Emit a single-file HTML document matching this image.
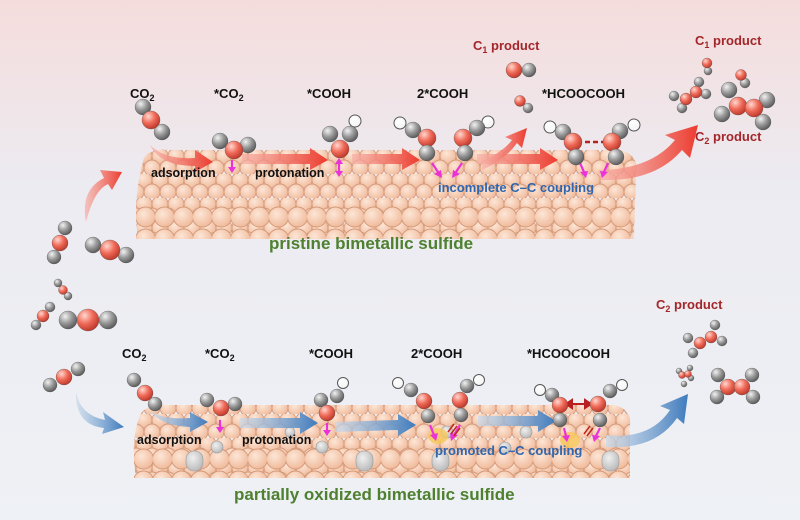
<!DOCTYPE html>
<html><head><meta charset="utf-8"><style>
html,body{margin:0;padding:0;width:800px;height:520px;overflow:hidden;}
svg{display:block}
text{font-family:"Liberation Sans",Arial,sans-serif;font-weight:bold}
</style></head><body>
<svg width="800" height="520" viewBox="0 0 800 520" xmlns="http://www.w3.org/2000/svg">
<defs>
<linearGradient id="bg" x1="0" y1="0" x2="0" y2="1">
<stop offset="0" stop-color="#f5dcdc"/><stop offset="0.35" stop-color="#ecebf1"/><stop offset="1" stop-color="#eef1f5"/>
</linearGradient>
<radialGradient id="g" cx="0.35" cy="0.3" r="0.75"><stop offset="0" stop-color="#f2f2f2"/><stop offset="0.5" stop-color="#9a9a9a"/><stop offset="1" stop-color="#555"/></radialGradient>
<radialGradient id="r" cx="0.35" cy="0.3" r="0.75"><stop offset="0" stop-color="#ffd8d0"/><stop offset="0.5" stop-color="#f06a58"/><stop offset="1" stop-color="#b83528"/></radialGradient>
<radialGradient id="h" cx="0.35" cy="0.3" r="0.75"><stop offset="0" stop-color="#fff"/><stop offset="1" stop-color="#f4f4f4"/></radialGradient>
<radialGradient id="p" cx="0.4" cy="0.35" r="0.7"><stop offset="0" stop-color="#fde6d6"/><stop offset="1" stop-color="#efb898"/></radialGradient>
<radialGradient id="pg" cx="0.4" cy="0.35" r="0.7"><stop offset="0" stop-color="#f0f0f0"/><stop offset="1" stop-color="#b8b8b8"/></radialGradient>
<pattern id="top" width="16" height="24" patternUnits="userSpaceOnUse" x="136" y="150">
<circle cx="8" cy="6" r="8" fill="url(#p)" stroke="#d49878" stroke-width="0.9"/>
<circle cx="0" cy="18" r="8" fill="url(#p)" stroke="#d49878" stroke-width="0.9"/>
<circle cx="16" cy="18" r="8" fill="url(#p)" stroke="#d49878" stroke-width="0.9"/>
</pattern>
<pattern id="front" width="19" height="22" patternUnits="userSpaceOnUse" x="136" y="206">
<circle cx="9.5" cy="11" r="10" fill="url(#p)" stroke="#d49878" stroke-width="0.9"/>
</pattern>
<pattern id="front2" width="19" height="22" patternUnits="userSpaceOnUse" x="134" y="448">
<circle cx="9.5" cy="11" r="10" fill="url(#p)" stroke="#d49878" stroke-width="0.9"/>
</pattern>
<linearGradient id="ra" x1="0" y1="0" x2="1" y2="0"><stop offset="0" stop-color="#f7b0a8" stop-opacity="0.7"/><stop offset="1" stop-color="#ec3b2e"/></linearGradient>
<linearGradient id="ba" x1="0" y1="0" x2="1" y2="0"><stop offset="0" stop-color="#c9d9ea" stop-opacity="0.7"/><stop offset="1" stop-color="#3f7bbd"/></linearGradient>
</defs>
<rect width="800" height="520" fill="url(#bg)"/>

<!-- TOP SLAB -->
<path d="M144,158 Q150,148 170,150 L620,150 Q640,155 636,175 L634,236 L138,238 Q132,200 144,158Z" fill="url(#top)"/>
<rect x="136" y="206" width="498" height="33" fill="url(#front)"/>

<!-- BOTTOM SLAB -->
<path d="M140,415 Q145,405 165,405 L615,405 Q632,410 630,425 L630,478 L136,478 Q130,440 140,415Z" fill="url(#top)"/>
<rect x="134" y="448" width="496" height="30" fill="url(#front2)"/>
<g fill="url(#pg)" stroke="#999" stroke-width="0.6">
<rect x="186" y="451" width="17" height="20" rx="8"/><rect x="356" y="451" width="17" height="20" rx="8"/>
<rect x="432" y="451" width="17" height="20" rx="8"/><rect x="602" y="451" width="17" height="20" rx="8"/>
<circle cx="217" cy="447" r="6"/><circle cx="322" cy="447" r="6"/><circle cx="447" cy="432" r="6"/>
<circle cx="526" cy="432" r="6"/><circle cx="290" cy="432" r="5"/><circle cx="505" cy="448" r="6"/>
</g>
<g fill="#f7c85a" opacity="0.8"><ellipse cx="438" cy="436" rx="10" ry="8"/><ellipse cx="570" cy="440" rx="10" ry="8"/></g>

<!-- top arrows -->
<g fill="url(#ra)">
<path d="M150,145 Q165,160 195,158 L195,150 L213,162 L195,172 L195,166 Q160,166 150,145Z"/>
<path d="M242,154 L310,154 L310,148 L328,160 L310,170 L310,164 L242,164Z"/>
<path d="M352,154 L402,154 L402,148 L420,160 L402,170 L402,164 L352,164Z"/>
<path d="M477,154 L540,154 L540,148 L558,160 L540,170 L540,164 L477,164Z"/>
<path d="M482,162 Q505,150 512,140 L505,137 L527,128 L522,148 L517,143 Q505,160 482,170Z"/>
<path d="M598,170 Q650,170 675,140 L665,135 L698,125 L690,158 L682,150 Q655,182 600,180Z"/>
<path d="M86,222 Q80,190 104,178 L100,170 L122,172 L112,190 L108,184 Q94,190 86,222Z"/>
</g>
<!-- bottom arrows -->
<g fill="url(#ba)">
<path d="M150,410 Q160,420 190,418 L190,412 L208,422 L190,432 L190,427 Q160,426 150,410Z"/>
<path d="M240,418 L300,418 L300,412 L318,423 L300,434 L300,428 L240,428Z"/>
<path d="M335,422 L398,420 L398,414 L416,425 L398,436 L398,430 L335,432Z"/>
<path d="M478,416 L538,416 L538,410 L556,421 L538,432 L538,426 L478,426Z"/>
<path d="M606,435 Q650,440 670,410 L660,406 L688,394 L684,424 L677,418 Q655,450 606,447Z"/>
<path d="M76,392 Q80,415 105,420 L103,412 L124,427 L102,434 L104,428 Q75,425 76,392Z"/>
</g>

<!-- magenta arrows -->
<g stroke="#ea32d8" stroke-width="2.2" fill="#ea32d8">
<line x1="232" y1="160" x2="232" y2="168"/><path d="M228,167 L236,167 L232,173Z" stroke="none"/>
<line x1="339" y1="163" x2="339" y2="172"/><path d="M335,164 L343,164 L339,158Z" stroke="none"/><path d="M335,171 L343,171 L339,177Z" stroke="none"/>
<line x1="432" y1="163" x2="438" y2="172"/><path d="M434,174 L441,170 L442,178Z" stroke="none"/>
<line x1="462" y1="163" x2="456" y2="172"/><path d="M453,170 L460,174 L452,178Z" stroke="none"/>
<line x1="580" y1="163" x2="584" y2="172"/><path d="M580,172 L588,171 L586,178Z" stroke="none"/>
<line x1="608" y1="163" x2="604" y2="172"/><path d="M600,171 L608,172 L602,178Z" stroke="none"/>
<line x1="220" y1="420" x2="220" y2="428"/><path d="M216,427 L224,427 L220,433Z" stroke="none"/>
<line x1="327" y1="423" x2="327" y2="431"/><path d="M323,430 L331,430 L327,436Z" stroke="none"/>
<line x1="430" y1="425" x2="434" y2="435"/><path d="M430,435 L438,433 L436,441Z" stroke="none"/>
<line x1="460" y1="425" x2="454" y2="435"/><path d="M450,433 L458,435 L451,441Z" stroke="none"/>
<line x1="564" y1="428" x2="566" y2="436"/><path d="M562,436 L570,435 L567,442Z" stroke="none"/>
<line x1="600" y1="428" x2="596" y2="436"/><path d="M592,435 L600,436 L594,442Z" stroke="none"/>
</g>
<g stroke="#c0281e" stroke-width="1.5" fill="none">
<path d="M448,432 q3,-4 6,-8 M451,434 q3,-4 6,-8 M454,436 q3,-4 6,-8"/>
<path d="M584,434 q3,-4 6,-8 M587,436 q3,-4 6,-8"/>
</g>
<line x1="585" y1="142" x2="608" y2="142" stroke="#b82020" stroke-width="2.5" stroke-dasharray="5,3"/>
<g stroke="#b82020" stroke-width="2" fill="#b82020"><line x1="568" y1="404" x2="589" y2="404"/><path d="M572,400 L566,404 L572,408Z M585,400 L591,404 L585,408Z"/></g>

<!-- molecules -->
<g stroke="#444" stroke-width="0.3">
<circle cx="143" cy="107" r="8" fill="url(#g)"/><circle cx="162" cy="132" r="8" fill="url(#g)"/><circle cx="151" cy="120" r="9" fill="url(#r)"/>
<circle cx="220" cy="141" r="8" fill="url(#g)"/><circle cx="248" cy="145" r="8" fill="url(#g)"/><circle cx="234" cy="150" r="9" fill="url(#r)"/>
<circle cx="355" cy="121" r="6" fill="url(#h)" stroke="#555" stroke-width="1"/><circle cx="350" cy="134" r="8" fill="url(#g)"/><circle cx="330" cy="134" r="8" fill="url(#g)"/><circle cx="340" cy="149" r="9" fill="url(#r)"/>
<circle cx="400" cy="123" r="6" fill="url(#h)" stroke="#555" stroke-width="1"/><circle cx="413" cy="130" r="8" fill="url(#g)"/><circle cx="427" cy="138" r="9" fill="url(#r)"/><circle cx="427" cy="153" r="8" fill="url(#g)"/>
<circle cx="488" cy="122" r="6" fill="url(#h)" stroke="#555" stroke-width="1"/><circle cx="477" cy="128" r="8" fill="url(#g)"/><circle cx="463" cy="138" r="9" fill="url(#r)"/><circle cx="465" cy="153" r="8" fill="url(#g)"/>
<circle cx="550" cy="127" r="6" fill="url(#h)" stroke="#555" stroke-width="1"/><circle cx="563" cy="132" r="8" fill="url(#g)"/><circle cx="573" cy="142" r="9" fill="url(#r)"/><circle cx="576" cy="157" r="8" fill="url(#g)"/>
<circle cx="634" cy="125" r="6" fill="url(#h)" stroke="#555" stroke-width="1"/><circle cx="620" cy="131" r="8" fill="url(#g)"/><circle cx="612" cy="142" r="9" fill="url(#r)"/><circle cx="616" cy="157" r="8" fill="url(#g)"/>
<circle cx="529" cy="70" r="7" fill="url(#g)"/><circle cx="514" cy="70" r="8" fill="url(#r)"/>
<circle cx="528" cy="108" r="5" fill="url(#g)"/><circle cx="520" cy="101" r="5.5" fill="url(#r)"/>
<circle cx="708" cy="71" r="4" fill="url(#g)"/><circle cx="707" cy="63" r="5" fill="url(#r)"/>
<circle cx="745" cy="83" r="5" fill="url(#g)"/><circle cx="741" cy="75" r="5.5" fill="url(#r)"/>
<circle cx="699" cy="82" r="5" fill="url(#g)"/><circle cx="674" cy="96" r="5" fill="url(#g)"/><circle cx="706" cy="94" r="5" fill="url(#g)"/><circle cx="682" cy="108" r="5" fill="url(#g)"/>
<circle cx="686" cy="99" r="6" fill="url(#r)"/><circle cx="696" cy="92" r="6" fill="url(#r)"/>
<circle cx="729" cy="90" r="8" fill="url(#g)"/><circle cx="767" cy="100" r="8" fill="url(#g)"/><circle cx="722" cy="114" r="8" fill="url(#g)"/><circle cx="763" cy="122" r="8" fill="url(#g)"/>
<circle cx="738" cy="106" r="9" fill="url(#r)"/><circle cx="754" cy="108" r="9" fill="url(#r)"/>
<circle cx="65" cy="228" r="7" fill="url(#g)"/><circle cx="54" cy="257" r="7" fill="url(#g)"/><circle cx="60" cy="243" r="8" fill="url(#r)"/>
<circle cx="93" cy="245" r="8" fill="url(#g)"/><circle cx="126" cy="255" r="8" fill="url(#g)"/><circle cx="110" cy="250" r="10" fill="url(#r)"/>
<circle cx="58" cy="283" r="4" fill="url(#g)"/><circle cx="68" cy="296" r="4" fill="url(#g)"/><circle cx="63" cy="290" r="4.5" fill="url(#r)"/>
<circle cx="50" cy="307" r="5" fill="url(#g)"/><circle cx="36" cy="325" r="5" fill="url(#g)"/><circle cx="43" cy="316" r="6" fill="url(#r)"/>
<circle cx="68" cy="320" r="9" fill="url(#g)"/><circle cx="108" cy="320" r="9" fill="url(#g)"/><circle cx="88" cy="320" r="11" fill="url(#r)"/>
<circle cx="78" cy="369" r="7" fill="url(#g)"/><circle cx="50" cy="385" r="7" fill="url(#g)"/><circle cx="64" cy="377" r="8" fill="url(#r)"/>
<circle cx="134" cy="380" r="7" fill="url(#g)"/><circle cx="155" cy="404" r="7" fill="url(#g)"/><circle cx="145" cy="393" r="8" fill="url(#r)"/>
<circle cx="207" cy="400" r="7" fill="url(#g)"/><circle cx="235" cy="404" r="7" fill="url(#g)"/><circle cx="221" cy="408" r="8" fill="url(#r)"/>
<circle cx="343" cy="383" r="5.5" fill="url(#h)" stroke="#555" stroke-width="1"/><circle cx="337" cy="396" r="7" fill="url(#g)"/><circle cx="321" cy="400" r="7" fill="url(#g)"/><circle cx="327" cy="413" r="8" fill="url(#r)"/>
<circle cx="398" cy="383" r="5.5" fill="url(#h)" stroke="#555" stroke-width="1"/><circle cx="411" cy="390" r="7" fill="url(#g)"/><circle cx="424" cy="401" r="8" fill="url(#r)"/><circle cx="428" cy="416" r="7" fill="url(#g)"/>
<circle cx="479" cy="380" r="5.5" fill="url(#h)" stroke="#555" stroke-width="1"/><circle cx="467" cy="386" r="7" fill="url(#g)"/><circle cx="460" cy="400" r="8" fill="url(#r)"/><circle cx="461" cy="415" r="7" fill="url(#g)"/>
<circle cx="540" cy="390" r="5.5" fill="url(#h)" stroke="#555" stroke-width="1"/><circle cx="552" cy="395" r="7" fill="url(#g)"/><circle cx="560" cy="405" r="8" fill="url(#r)"/><circle cx="560" cy="420" r="7" fill="url(#g)"/>
<circle cx="622" cy="385" r="5.5" fill="url(#h)" stroke="#555" stroke-width="1"/><circle cx="610" cy="391" r="7" fill="url(#g)"/><circle cx="598" cy="404" r="8" fill="url(#r)"/><circle cx="600" cy="420" r="7" fill="url(#g)"/>
<circle cx="688" cy="338" r="5" fill="url(#g)"/><circle cx="715" cy="325" r="5" fill="url(#g)"/><circle cx="722" cy="341" r="5" fill="url(#g)"/><circle cx="693" cy="353" r="5" fill="url(#g)"/>
<circle cx="700" cy="343" r="6" fill="url(#r)"/><circle cx="711" cy="337" r="6" fill="url(#r)"/>
<circle cx="679" cy="371" r="3" fill="url(#g)"/><circle cx="690" cy="368" r="3" fill="url(#g)"/><circle cx="684" cy="384" r="3" fill="url(#g)"/><circle cx="691" cy="378" r="3" fill="url(#g)"/>
<circle cx="682" cy="375" r="3.5" fill="url(#r)"/><circle cx="688" cy="374" r="3.5" fill="url(#r)"/>
<circle cx="718" cy="375" r="7" fill="url(#g)"/><circle cx="752" cy="375" r="7" fill="url(#g)"/><circle cx="717" cy="397" r="7" fill="url(#g)"/><circle cx="753" cy="397" r="7" fill="url(#g)"/>
<circle cx="728" cy="387" r="8" fill="url(#r)"/><circle cx="742" cy="387" r="8" fill="url(#r)"/>
</g>

<!-- labels -->
<g font-size="13" fill="#111">
<text x="130" y="98">CO<tspan font-size="9" dy="3">2</tspan></text>
<text x="214" y="98">*CO<tspan font-size="9" dy="3">2</tspan></text>
<text x="307" y="98">*COOH</text>
<text x="417" y="98">2*COOH</text>
<text x="542" y="98">*HCOOCOOH</text>
<text x="122" y="358">CO<tspan font-size="9" dy="3">2</tspan></text>
<text x="205" y="358">*CO<tspan font-size="9" dy="3">2</tspan></text>
<text x="309" y="358">*COOH</text>
<text x="411" y="358">2*COOH</text>
<text x="527" y="358">*HCOOCOOH</text>
</g>
<g font-size="12.5" fill="#111">
<text x="151" y="177">adsorption</text><text x="255" y="177">protonation</text>
<text x="137" y="444">adsorption</text><text x="242" y="444">protonation</text>
</g>
<g font-size="13" fill="#a3262a">
<text x="473" y="50">C<tspan font-size="9" dy="3">1</tspan><tspan dy="-3"> product</tspan></text>
<text x="695" y="45">C<tspan font-size="9" dy="3">1</tspan><tspan dy="-3"> product</tspan></text>
<text x="695" y="141">C<tspan font-size="9" dy="3">2</tspan><tspan dy="-3"> product</tspan></text>
<text x="656" y="309">C<tspan font-size="9" dy="3">2</tspan><tspan dy="-3"> product</tspan></text>
</g>
<g font-size="13" fill="#2f66ad">
<text x="438" y="192">incomplete C–C coupling</text>
<text x="435" y="455">promoted C–C coupling</text>
</g>
<g font-size="17" fill="#4e8030">
<text x="269" y="249">pristine bimetallic sulfide</text>
<text x="234" y="500">partially oxidized bimetallic sulfide</text>
</g>
</svg>
</body></html>
